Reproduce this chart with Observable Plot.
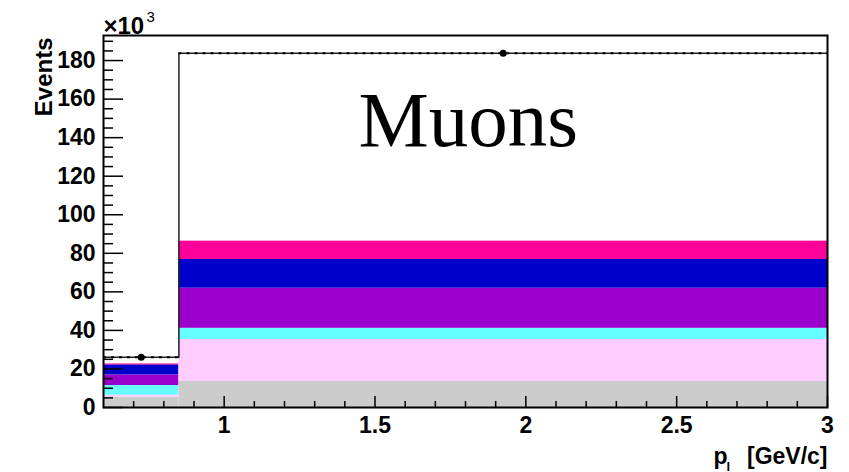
<!DOCTYPE html>
<html>
<head>
<meta charset="utf-8">
<script src="https://cdn.jsdelivr.net/npm/d3@7"></script>
<script src="https://cdn.jsdelivr.net/npm/@observablehq/plot@0.6"></script>
<style>
  body { margin: 0; background: #fff; }
</style>
</head>
<body>
<div id="chart"></div>
<script>
// Bin edges of the transverse momentum histogram, p_l [GeV/c]
const binEdges = [0.6, 0.85, 3];
const binCenters = [0.725, 1.925];

// Stacked simulated components (×10^3 events), listed bottom to top
const components = ["comp1", "comp2", "comp3", "comp4", "comp5", "comp6"];
const componentColors = ["#cccccc", "#ffccff", "#66ffff", "#9900cc", "#0000cc", "#ff0099"];
const bin1Values = [5.4, 1.0, 5.0, 5.5, 5.2, 0.5];
const bin2Values = [13.5, 21.8, 5.8, 20.8, 14.9, 9.5];

// Observed events per bin (×10^3)
const dataCounts = [26.1, 183.8];

// Axis ticks
const yMajorTicks = [0, 20, 40, 60, 80, 100, 120, 140, 160, 180];
const yMinorTicks = [5, 10, 15, 25, 30, 35, 45, 50, 55, 65, 70, 75, 85, 90, 95,
  105, 110, 115, 125, 130, 135, 145, 150, 155, 165, 170, 175, 185, 190];
const xMajorTicks = [1, 1.5, 2, 2.5, 3];
const xMinorTicks = [0.7, 0.8, 0.9, 1.1, 1.2, 1.3, 1.4, 1.6, 1.7, 1.8, 1.9,
  2.1, 2.2, 2.3, 2.4, 2.6, 2.7, 2.8, 2.9];

const W = 849, H = 472;
const M = {top: 35, right: 22, bottom: 65, left: 103};
const innerW = W - M.left - M.right;
const innerH = H - M.top - M.bottom;

// Stack the components within each bin
const binValues = [bin1Values, bin2Values];
const stackRows = [];
binValues.forEach((vals, i) => {
  let base = 0;
  vals.forEach((v, j) => {
    stackRows.push({x1: binEdges[i], x2: binEdges[i + 1], y1: base, y2: base + v, comp: components[j]});
    base += v;
  });
});

// Outline of the data histogram (step shape)
const outline = binEdges.map((e, i) => ({x: e, y: dataCounts[Math.min(i, dataCounts.length - 1)]}));

const font = "'Liberation Sans', Arial, Helvetica, sans-serif";

const chart = Plot.plot({
  width: W,
  height: H,
  marginTop: M.top,
  marginRight: M.right,
  marginBottom: M.bottom,
  marginLeft: M.left,
  style: {fontFamily: font, background: "#fff"},
  x: {domain: [0.6, 3], axis: null},
  y: {domain: [0, 193], axis: null},
  color: {domain: components, range: componentColors},
  marks: [
    Plot.rect(stackRows, {x1: "x1", x2: "x2", y1: "y1", y2: "y2", fill: "comp"}),
    Plot.line(outline, {x: "x", y: "y", curve: "step-after", stroke: "#222", strokeWidth: 1.5}),
    Plot.ruleY(dataCounts, {
      y: d => d,
      x1: (d, i) => binEdges[i],
      x2: (d, i) => binEdges[i + 1],
      stroke: "#000", strokeWidth: 2, strokeDasharray: "3,5"
    }),
    Plot.dot(dataCounts, {x: (d, i) => binCenters[i], y: d => d, r: 3.5, fill: "#000", stroke: "none"}),
    // inward ticks
    Plot.tickY(yMajorTicks, {y: d => d, insetRight: innerW - 20, stroke: "#000", strokeWidth: 1.5}),
    Plot.tickY(yMinorTicks, {y: d => d, insetRight: innerW - 10, stroke: "#000", strokeWidth: 1.5}),
    Plot.tickX(xMajorTicks, {x: d => d, insetTop: innerH - 11, stroke: "#000", strokeWidth: 1.5}),
    Plot.tickX(xMinorTicks, {x: d => d, insetTop: innerH - 6, stroke: "#000", strokeWidth: 1.5}),
    Plot.frame({stroke: "#000", strokeWidth: 2}),
    Plot.axisY(yMajorTicks, {
      tickSize: 0, tickPadding: 8, tickFormat: d => String(d),
      fontSize: 23, fontWeight: "bold", fontFamily: font, fill: "#000"
    }),
    Plot.axisX(xMajorTicks, {
      tickSize: 0, tickPadding: 9, tickFormat: d => String(d),
      fontSize: 23, fontWeight: "bold", fontFamily: font, fill: "#000"
    }),
    // axis titles
    Plot.text(["Events"], {
      frameAnchor: "top-left", dx: -69, dy: 2, rotate: -90, textAnchor: "end",
      fontSize: 24, fontWeight: "bold", fontFamily: font, fill: "#000"
    }),
    Plot.text(["×10"], {
      frameAnchor: "top-left", dx: 0, dy: -2, textAnchor: "start", lineAnchor: "bottom",
      fontSize: 24, fontWeight: "bold", fontFamily: font, fill: "#000"
    }),
    Plot.text(["3"], {
      frameAnchor: "top-left", dx: 43, dy: -14, textAnchor: "start", lineAnchor: "bottom",
      fontSize: 15, fontFamily: font, fill: "#000"
    }),
    Plot.text(["[GeV/c]"], {
      frameAnchor: "bottom-right", dx: 0, dy: 56, textAnchor: "end", lineAnchor: "bottom",
      fontSize: 23, fontWeight: "bold", fontFamily: font, fill: "#000"
    }),
    Plot.text(["p"], {
      frameAnchor: "bottom-right", dx: -114, dy: 56, textAnchor: "start", lineAnchor: "bottom",
      fontSize: 23, fontWeight: "bold", fontFamily: font, fill: "#000"
    }),
    Plot.text(["l"], {
      frameAnchor: "bottom-right", dx: -101, dy: 63, textAnchor: "start", lineAnchor: "bottom",
      fontSize: 13, fontWeight: "bold", fontFamily: font, fill: "#000"
    }),
    // panel title
    Plot.text(["Muons"], {
      frameAnchor: "top-left", dx: 255, dy: 110, textAnchor: "start", lineAnchor: "bottom",
      fontSize: 79, fontFamily: "'Liberation Serif', 'Times New Roman', serif", fill: "#000"
    })
  ]
});

document.getElementById("chart").appendChild(chart);
</script>
</body>
</html>
